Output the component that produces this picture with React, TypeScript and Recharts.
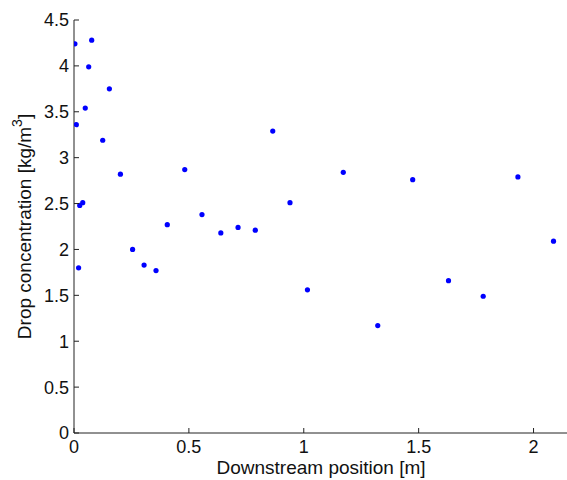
import { Scatter, ScatterChart, XAxis, YAxis } from 'recharts'

// downstream position [m] and drop concentration [kg/m3]
const positions = [
  0.004, 0.01, 0.02, 0.025, 0.038, 0.049, 0.064, 0.077, 0.125, 0.154, 0.202, 0.255, 0.305, 0.357,
  0.406, 0.482, 0.557, 0.639, 0.714, 0.789, 0.865, 0.94, 1.016, 1.172, 1.322, 1.474, 1.63, 1.781,
  1.932, 2.087,
]
const concentrations = [
  4.24, 3.36, 1.8, 2.48, 2.51, 3.54, 3.99, 4.28, 3.19, 3.75, 2.82, 2.0, 1.83, 1.77, 2.27, 2.87,
  2.38, 2.18, 2.24, 2.21, 3.29, 2.51, 1.56, 2.84, 1.17, 2.76, 1.66, 1.49, 2.79, 2.09,
]
const xTicks = [0, 0.5, 1, 1.5, 2]
const yTicks = [0, 0.5, 1, 1.5, 2, 2.5, 3, 3.5, 4, 4.5]

const points = positions.map((x, i) => ({ x, y: concentrations[i] }))

const FONT = '"Liberation Sans", Arial, sans-serif'
const INK = '#111'
const AXIS = '#222'
const TICK_LEN = 5

function LeftTick({ x, y, payload }: any) {
  return (
    <g>
      <line x1={x + 5} x2={x + 5 + TICK_LEN} y1={y} y2={y} stroke={AXIS} />
      <text x={x} y={y} dy="0.36em" textAnchor="end" fontSize={18} fontFamily={FONT} fill={INK}>
        {payload.value}
      </text>
    </g>
  )
}

function BottomTick({ x, y, payload }: any) {
  return (
    <g>
      <line x1={x} x2={x} y1={y - 7} y2={y - 7 - TICK_LEN} stroke={AXIS} />
      <text x={x} y={y} dy="0.72em" textAnchor="middle" fontSize={18} fontFamily={FONT} fill={INK}>
        {payload.value}
      </text>
    </g>
  )
}

function TopTick({ x, y }: any) {
  return <line x1={x} x2={x} y1={y} y2={y + TICK_LEN} stroke={AXIS} />
}

function YLabel({ viewBox }: any) {
  const cx = viewBox.x + 24
  const cy = viewBox.y + viewBox.height / 2
  return (
    <text
      x={cx}
      y={cy}
      transform={`rotate(-90 ${cx} ${cy})`}
      textAnchor="middle"
      dominantBaseline="central"
      fontSize={19}
      fontFamily={FONT}
      fill={INK}
    >
      Drop concentration [kg/m
      <tspan dy={-7} fontSize={14}>3</tspan>
      <tspan dy={7}>]</tspan>
    </text>
  )
}

const dot = (p: any) => <circle cx={p.cx} cy={p.cy} r={2.6} fill="#0000ff" />

export default function App() {
  return (
    <div style={{ position: 'absolute', left: 0, top: 0, width: 567, height: 480, overflow: 'hidden', background: '#fff' }}>
      <ScatterChart width={570} height={480} margin={{ top: 20, right: 2, left: 0, bottom: 0 }}>
        <XAxis
          type="number"
          dataKey="x"
          domain={[0, 2.15]}
          ticks={xTicks}
          allowDataOverflow
          height={47}
          tickSize={0}
          tickMargin={7}
          tickLine={false}
          tick={<BottomTick />}
          axisLine={{ stroke: AXIS }}
          label={{
            value: 'Downstream position [m]',
            position: 'insideBottom',
            offset: 6,
            fontSize: 19,
            fontFamily: FONT,
            fill: INK,
          }}
        />
        <XAxis
          xAxisId="top"
          orientation="top"
          type="number"
          domain={[0, 2.15]}
          ticks={xTicks}
          allowDataOverflow
          height={0}
          tickSize={0}
          tickMargin={0}
          tickLine={false}
          tick={<TopTick />}
          axisLine={{ stroke: AXIS }}
        />
        <YAxis
          type="number"
          dataKey="y"
          domain={[0, 4.5]}
          ticks={yTicks}
          allowDataOverflow
          width={74}
          tickSize={0}
          tickMargin={5}
          tickLine={false}
          tick={<LeftTick />}
          axisLine={{ stroke: AXIS }}
          label={<YLabel />}
        />
        <Scatter data={points} shape={dot} isAnimationActive={false} />
      </ScatterChart>
    </div>
  )
}
